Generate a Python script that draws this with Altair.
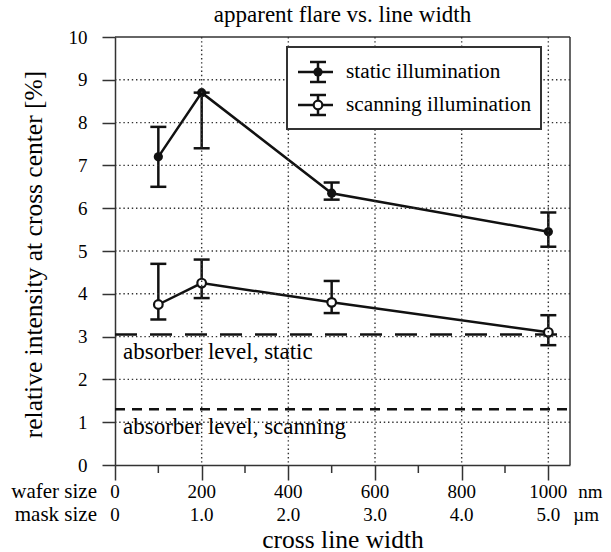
import altair as alt
import pandas as pd

# ---------------- data ----------------
x_vals = [100, 200, 500, 1000]
static_y = [7.2, 8.7, 6.35, 5.45]
static_lo = [6.5, 7.4, 6.2, 5.1]
static_hi = [7.9, 8.7, 6.6, 5.9]
scan_y = [3.75, 4.25, 3.8, 3.1]
scan_lo = [3.4, 3.9, 3.55, 2.8]
scan_hi = [4.7, 4.8, 4.3, 3.5]
absorber_static = 3.05
absorber_scan = 1.3
wafer_ticks = [0, 200, 400, 600, 800, 1000]
wafer_labels = ["0", "200", "400", "600", "800", "1000"]
mask_labels = ["0", "1.0", "2.0", "3.0", "4.0", "5.0"]
minor_ticks = [100, 300, 500, 700, 900]
y_ticks = list(range(0, 11))
x_grid = [200, 400, 600, 800, 1000]
y_grid = [1, 2, 3, 4, 5, 6, 7, 8, 9]

FONT = "Liberation Serif"
W, H = 455, 428
INK = "#111111"
FRAME = "#333333"
GRID = "#333333"

df_static = pd.DataFrame({"x": x_vals, "y": static_y, "lo": static_lo, "hi": static_hi})
df_scan = pd.DataFrame({"x": x_vals, "y": scan_y, "lo": scan_lo, "hi": scan_hi})
df_bottom = pd.DataFrame({"x": wafer_ticks, "wafer": wafer_labels, "mask": mask_labels})
df_minor = pd.DataFrame({"x": minor_ticks})
df_xgrid = pd.DataFrame({"x": x_grid})
df_ygrid = pd.DataFrame({"y": y_grid})
one = pd.DataFrame({"a": [0]})

xscale = alt.Scale(domain=[0, 1050], nice=False, zero=False)
yscale = alt.Scale(domain=[0, 10], nice=False)

x_axis = alt.Axis(values=wafer_ticks, labels=False, tickSize=15, grid=False,
                  domainColor=FRAME, domainWidth=1.5, tickColor=FRAME, tickWidth=1.5,
                  title="cross line width", titleY=74, titleX=W / 2, titleFont=FONT,
                  titleFontWeight="normal", titleColor="black",
                  titleBaseline="middle", titleAlign="center", titleFontSize=25.5)
y_axis = alt.Axis(values=y_ticks, tickSize=13, labelPadding=15, grid=False,
                  domainColor=FRAME, domainWidth=1.5, tickColor=FRAME, tickWidth=1.5,
                  labelFont=FONT, labelFontSize=19, labelColor="black",
                  title="relative intensity at cross center [%]", titleFont=FONT,
                  titleFontWeight="normal", titleColor="black",
                  titleX=-82, titleY=217, titleAngle=270,
                  titleBaseline="middle", titleAlign="center", titleFontSize=25.5)

# the first layer carries the shared scales and axes
axes_layer = alt.Chart(df_static).mark_line(color=INK, strokeWidth=2.5).encode(
    x=alt.X("x:Q", scale=xscale, axis=x_axis),
    y=alt.Y("y:Q", scale=yscale, axis=y_axis),
)

# dotted grid lines
grid = [
    alt.Chart(df_xgrid).mark_rule(color=GRID, strokeWidth=1.4, strokeDash=[1.4, 2.8], opacity=1).encode(
        x="x:Q", y=alt.value(0), y2=alt.value(H)),
    alt.Chart(df_ygrid).mark_rule(color=GRID, strokeWidth=1.4, strokeDash=[1.4, 2.8], opacity=1).encode(
        y="y:Q", x=alt.value(0), x2=alt.value(W)),
]

# plot frame (top and right edges)
frame = [
    alt.Chart(one).mark_rule(color=FRAME, strokeWidth=1.5).encode(
        x=alt.value(0), x2=alt.value(W), y=alt.value(0)),
    alt.Chart(one).mark_rule(color=FRAME, strokeWidth=1.5).encode(
        x=alt.value(W), y=alt.value(0), y2=alt.value(H)),
]


def series_layers(df, open_marker):
    base = alt.Chart(df)
    line = base.mark_line(color=INK, strokeWidth=2.5).encode(x="x:Q", y="y:Q")
    bars = base.mark_rule(color=INK, strokeWidth=2.5).encode(x="x:Q", y="lo:Q", y2="hi:Q")
    cap_lo = base.mark_tick(orient="horizontal", color=INK, size=16, thickness=2.5, opacity=1).encode(
        x="x:Q", y="lo:Q")
    cap_hi = base.mark_tick(orient="horizontal", color=INK, size=16, thickness=2.5, opacity=1).encode(
        x="x:Q", y="hi:Q")
    if open_marker:
        pts = base.mark_point(shape="circle", filled=True, fill="white", stroke=INK,
                              strokeWidth=2.2, size=75, opacity=1).encode(x="x:Q", y="y:Q")
    else:
        pts = base.mark_point(shape="circle", filled=True, fill=INK, size=85,
                              opacity=1).encode(x="x:Q", y="y:Q")
    return [line, bars, cap_lo, cap_hi, pts]


absorber = [
    alt.Chart(one).mark_rule(color=INK, strokeWidth=2.5, strokeDash=[22, 13]).encode(
        y=alt.datum(absorber_static), x=alt.value(0), x2=alt.value(W)),
    alt.Chart(one).mark_rule(color=INK, strokeWidth=2.5, strokeDash=[10, 7]).encode(
        y=alt.datum(absorber_scan), x=alt.value(0), x2=alt.value(W)),
    alt.Chart(one).mark_text(font=FONT, fontSize=23, align="left", baseline="middle", dy=18,
                             color="black").encode(
        y=alt.datum(absorber_static), x=alt.value(8), text=alt.value("absorber level, static")),
    alt.Chart(one).mark_text(font=FONT, fontSize=23, align="left", baseline="middle", dy=18,
                             color="black").encode(
        y=alt.datum(absorber_scan), x=alt.value(8), text=alt.value("absorber level, scanning")),
]

minor = alt.Chart(df_minor).mark_rule(color=FRAME, strokeWidth=1.5).encode(
    x="x:Q", y=alt.value(H), y2=alt.value(H + 8))

bottom = [
    alt.Chart(df_bottom).mark_text(font=FONT, fontSize=19, baseline="middle", color="black").encode(
        x="x:Q", y=alt.value(H + 27), text="wafer:N"),
    alt.Chart(df_bottom).mark_text(font=FONT, fontSize=19, baseline="middle", color="black").encode(
        x="x:Q", y=alt.value(H + 50), text="mask:N"),
    alt.Chart(one).mark_text(font=FONT, fontSize=19, baseline="middle", align="left", dx=30,
                             color="black").encode(
        x=alt.datum(1000), y=alt.value(H + 27), text=alt.value("nm")),
    alt.Chart(one).mark_text(font=FONT, fontSize=19, baseline="middle", align="left", dx=25,
                             color="black").encode(
        x=alt.datum(1000), y=alt.value(H + 50), text=alt.value("µm")),
    alt.Chart(one).mark_text(font=FONT, fontSize=21, baseline="middle", align="right",
                             color="black").encode(
        x=alt.value(-18), y=alt.value(H + 27), text=alt.value("wafer size")),
    alt.Chart(one).mark_text(font=FONT, fontSize=21, baseline="middle", align="right",
                             color="black").encode(
        x=alt.value(-18), y=alt.value(H + 50), text=alt.value("mask size")),
    alt.Chart(one).mark_text(font=FONT, fontSize=23, baseline="middle", align="center",
                             color="black").encode(
        x=alt.value(W / 2), y=alt.value(-22), text=alt.value("apparent flare vs. line width")),
]

# ---------------- legend (drawn by hand) ----------------
LX0, LX1, LY0, LY1 = 172, 426, 10, 92
SX = 203
ROWS = [(35, False, "static illumination"), (68, True, "scanning illumination")]
legend = [alt.Chart(one).mark_rect(fill="white", stroke=FRAME, strokeWidth=2).encode(
    x=alt.value(LX0), x2=alt.value(LX1), y=alt.value(LY0), y2=alt.value(LY1))]
for ry, is_open, label in ROWS:
    legend += [
        alt.Chart(one).mark_rule(color=INK, strokeWidth=2.5).encode(
            x=alt.value(SX - 20), x2=alt.value(SX + 15), y=alt.value(ry)),
        alt.Chart(one).mark_rule(color=INK, strokeWidth=2.5).encode(
            x=alt.value(SX), y=alt.value(ry - 10), y2=alt.value(ry + 10)),
        alt.Chart(one).mark_rule(color=INK, strokeWidth=2.5).encode(
            x=alt.value(SX - 8), x2=alt.value(SX + 8), y=alt.value(ry - 10)),
        alt.Chart(one).mark_rule(color=INK, strokeWidth=2.5).encode(
            x=alt.value(SX - 8), x2=alt.value(SX + 8), y=alt.value(ry + 10)),
        alt.Chart(one).mark_point(shape="circle", filled=True,
                                  fill="white" if is_open else INK,
                                  stroke=INK, strokeWidth=2.2 if is_open else 0,
                                  size=75 if is_open else 85, opacity=1).encode(
            x=alt.value(SX), y=alt.value(ry)),
        alt.Chart(one).mark_text(font=FONT, fontSize=21.3, align="left", baseline="middle",
                                 color="black").encode(
            x=alt.value(231), y=alt.value(ry), text=alt.value(label)),
    ]

layers = ([axes_layer] + series_layers(df_scan, True)[:1] + absorber
          + series_layers(df_static, False)[1:] + series_layers(df_scan, True)[1:]
          + grid + frame + [minor] + bottom + legend)

chart = alt.layer(*layers).properties(
    width=W, height=H,
    autosize=alt.AutoSizeParams(type="none"),
    padding={"left": 115, "top": 37, "right": 611 - 115 - W, "bottom": 552 - 37 - H},
).configure(font=FONT).configure_view(strokeWidth=0)

chart.save("out.html", embed_options={"renderer": "svg", "actions": False})
